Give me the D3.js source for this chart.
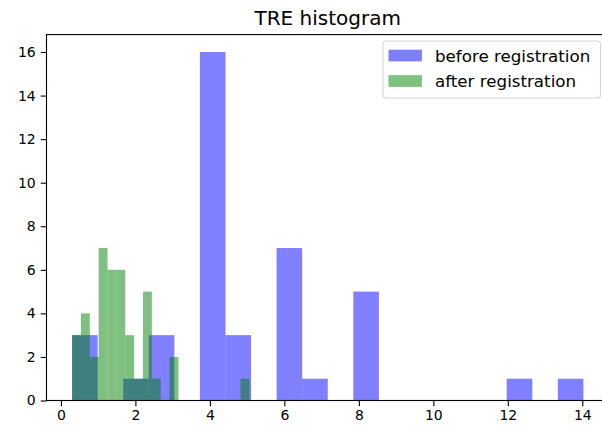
<!DOCTYPE html>
<html>
<head>
<meta charset="utf-8">
<script src="https://cdn.jsdelivr.net/npm/d3@7"></script>
<style>
  body { margin: 0; background: #fff; }
  text { font-family: "DejaVu Sans", sans-serif; fill: #000; }
</style>
</head>
<body>
<div id="chart"></div>
<script>
// histogram counts (20 bins each)
var beforeRange = [0.30, 14.03];
var beforeCounts = [3, 0, 1, 3, 0, 16, 3, 0, 7, 1, 0, 5, 0, 0, 0, 0, 0, 1, 0, 1];
var afterRange = [0.30, 5.06];
var afterCounts = [3, 4, 2, 7, 6, 6, 3, 1, 5, 1, 0, 2, 0, 0, 0, 0, 0, 0, 0, 1];
var xTicks = [0, 2, 4, 6, 8, 10, 12, 14];
var yTicks = [0, 2, 4, 6, 8, 10, 12, 14, 16];
var seriesNames = ["before registration", "after registration"];
var seriesColors = ["#8080ff", "#80c080"];

function toBins(range, counts) {
  var w = (range[1] - range[0]) / counts.length;
  return counts.map(function (c, i) {
    return { x0: range[0] + i * w, x1: range[0] + (i + 1) * w, count: c };
  });
}

var width = 602,
  height = 431,
  margin = { top: 34.6, right: -7, bottom: 30.5, left: 46.5 };

var svg = d3
  .select("#chart")
  .append("svg")
  .attr("width", width)
  .attr("height", height);

var xScale = d3
  .scaleLinear()
  .domain([-0.387, 14.717])
  .range([margin.left, width - margin.right]);
var yScale = d3
  .scaleLinear()
  .domain([0, 16.8])
  .range([height - margin.bottom, margin.top]);

var series = [toBins(beforeRange, beforeCounts), toBins(afterRange, afterCounts)];

// bars, before first then after on top (alpha 0.5 each)
var baseColors = ["#0000ff", "#008000"];
series.forEach(function (bins, s) {
  svg
    .append("g")
    .selectAll("rect")
    .data(bins.filter((d) => d.count > 0))
    .enter()
    .append("rect")
    .attr("x", (d) => xScale(d.x0))
    .attr("y", (d) => yScale(d.count))
    .attr("width", (d) => xScale(d.x1) - xScale(d.x0))
    .attr("height", (d) => yScale(0) - yScale(d.count))
    .attr("fill", baseColors[s])
    .attr("fill-opacity", 0.5);
});

// axes
var xAxis = d3.axisBottom(xScale).tickValues(xTicks).tickSize(5.8).tickPadding(4).tickSizeOuter(0);
var yAxis = d3.axisLeft(yScale).tickValues(yTicks).tickSize(5.8).tickPadding(5).tickSizeOuter(0);

var gx = svg
  .append("g")
  .attr("transform", `translate(0,${yScale(0)})`)
  .call(xAxis);
var gy = svg
  .append("g")
  .attr("transform", `translate(${xScale.range()[0]},0)`)
  .call(yAxis);

[gx, gy].forEach(function (g) {
  g.select(".domain").remove();
  g.selectAll(".tick line").attr("stroke", "#000").attr("stroke-width", 1.1);
  g.selectAll(".tick text")
    .attr("font-size", 14)
    .attr("font-family", "DejaVu Sans, sans-serif")
    .attr("fill", "#000");
});

// spines
var x0 = xScale.range()[0], x1 = xScale.range()[1];
var y0 = yScale.range()[0], y1 = yScale.range()[1];
svg
  .append("rect")
  .attr("x", x0)
  .attr("y", y1)
  .attr("width", x1 - x0)
  .attr("height", y0 - y1)
  .attr("fill", "none")
  .attr("stroke", "#000")
  .attr("stroke-width", 1.1);

// title
svg
  .append("text")
  .attr("x", (x0 + x1) / 2)
  .attr("y", 25)
  .attr("text-anchor", "middle")
  .attr("font-size", 20)
  .text("TRE histogram");

// legend
var legend = svg.append("g");
legend
  .append("rect")
  .attr("x", 383)
  .attr("y", 41)
  .attr("width", 217.5)
  .attr("height", 57)
  .attr("rx", 3)
  .attr("fill", "#fff")
  .attr("fill-opacity", 0.8)
  .attr("stroke", "#d6d6d6")
  .attr("stroke-width", 1.1);

var items = legend
  .selectAll("g.item")
  .data(seriesNames)
  .enter()
  .append("g")
  .attr("class", "item")
  .attr("transform", (d, i) => `translate(0,${55.5 + i * 25.5})`);

items
  .append("rect")
  .attr("x", 388.5)
  .attr("y", -5.8)
  .attr("width", 33.4)
  .attr("height", 11.7)
  .attr("fill", (d, i) => seriesColors[i]);

items
  .append("text")
  .attr("x", 435)
  .attr("y", 0)
  .attr("dy", "0.36em")
  .attr("font-size", 16.7)
  .text((d) => d);
</script>
</body>
</html>
